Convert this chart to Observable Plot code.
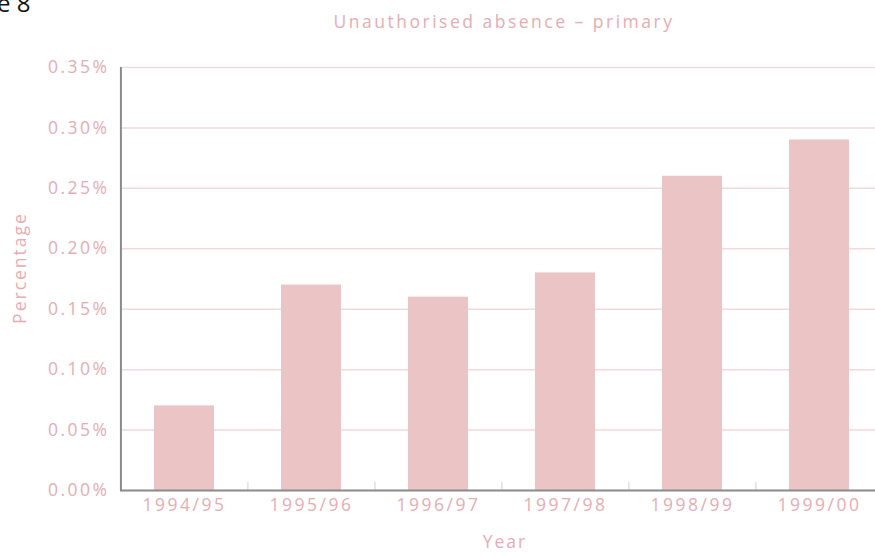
<!DOCTYPE html>
<html>
<head>
<meta charset="utf-8">
<script src="https://cdn.jsdelivr.net/npm/d3@7"></script>
<script src="https://cdn.jsdelivr.net/npm/@observablehq/plot@0.6"></script>
<style>
  html, body { margin: 0; padding: 0; background: #fff; overflow: hidden; }
  #chart { position: relative; width: 875px; height: 556px; }
</style>
</head>
<body>
<div id="chart"></div>
<script>
const years = ["1994/95", "1995/96", "1996/97", "1997/98", "1998/99", "1999/00"];
const values = [0.07, 0.17, 0.16, 0.18, 0.26, 0.29];
const yTicks = [0, 0.05, 0.10, 0.15, 0.20, 0.25, 0.30, 0.35];
const title = "Unauthorised absence – primary";
const xLabel = "Year";
const yLabel = "Percentage";
const figLabel = "e 8";

const data = years.map((year, i) => ({year, value: values[i]}));

const W = 875, H = 556, ML = 120, MR = -8, MT = 67, MB = 66;
const pink = "#e5adb3";
const font = "Open Sans, sans-serif";
const step = (W - ML - MR) / years.length;
const pxToY = 0.35 / (H - MT - MB);

const chart = Plot.plot({
  width: W,
  height: H,
  marginLeft: ML,
  marginRight: MR,
  marginTop: MT,
  marginBottom: MB,
  style: {fontFamily: font, background: "transparent", overflow: "visible", letterSpacing: "2.5px"},
  x: {domain: years, paddingInner: 0.53, paddingOuter: 0.265, align: 0.5, label: null},
  y: {domain: [0, 0.35], label: null},
  marks: [
    Plot.gridY(yTicks.slice(1), {stroke: "#f3d9db", strokeOpacity: 1, strokeWidth: 1.5}),
    Plot.barY(data, {x: "year", y: "value", fill: "#ebc4c6"}),
    Plot.ruleX(years.slice(1), {x: d => d, y1: 0, y2: 8 * pxToY, dx: -step / 2, stroke: "#cfcfcf", strokeWidth: 1}),
    Plot.ruleY([0], {stroke: "#8a8a8a", strokeWidth: 2}),
    Plot.ruleX([years[0]], {x: d => d, y1: 0, y2: 0.35, dx: -step / 2, stroke: "#8a8a8a", strokeWidth: 2}),
    Plot.axisY(yTicks, {tickSize: 0, tickPadding: 11, tickFormat: d => d3.format(".2f")(d) + "%", fill: pink, fontSize: 17.5, label: null}),
    Plot.axisX({tickSize: 0, tickPadding: 8, fill: pink, fontSize: 17.5, label: null}),
  ]
});

const svg = d3.select(chart);
svg.style("overflow", "visible");
svg.append("text").text(title)
  .attr("x", 504).attr("y", 28).attr("text-anchor", "middle")
  .attr("letter-spacing", "2.5px")
  .attr("fill", pink).attr("font-size", 17.5).attr("font-family", font);
svg.append("text").text(xLabel)
  .attr("x", 505).attr("y", 548).attr("text-anchor", "middle")
  .attr("letter-spacing", "2px")
  .attr("fill", pink).attr("font-size", 17.5).attr("font-family", font);
svg.append("text").text(yLabel)
  .attr("transform", "translate(26,268) rotate(-90)").attr("text-anchor", "middle")
  .attr("letter-spacing", "2px")
  .attr("fill", pink).attr("font-size", 17.5).attr("font-family", font);
svg.append("text").text(figLabel)
  .attr("x", -3).attr("y", 12).attr("text-anchor", "start")
  .attr("letter-spacing", "0px")
  .attr("fill", "#111").attr("font-size", 24).attr("font-family", "Open Sans, sans-serif");

document.getElementById("chart").appendChild(chart);
</script>
</body>
</html>
